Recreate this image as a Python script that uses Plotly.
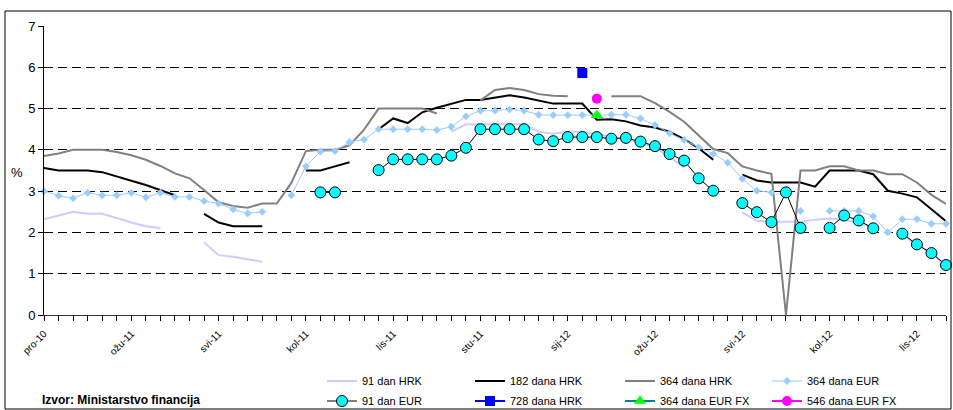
import plotly.graph_objects as go

N = 63
auction_idx = list(range(N))
tick_pos = [0, 6, 12, 18, 24, 30, 36, 42, 48, 54, 60]
tick_labels = ["pro-10", "ožu-11", "svi-11", "kol-11", "lis-11", "stu-11",
               "sij-12", "ožu-12", "svi-12", "kol-12", "lis-12"]

N_ = None
hrk_91 = [2.32, 2.41, 2.5, 2.45, 2.45, 2.35, 2.24, 2.15, 2.1, N_, N_,
          1.76, 1.45, 1.41, 1.35, 1.29,
          N_, N_, N_, N_, N_, N_, N_, N_, N_, N_, N_, N_,
          4.44, 4.62, 4.62, 4.62, 4.62, 4.62, 4.44, 4.39, 4.44, 4.44, 4.38, 4.33,
          4.27, 4.18, 4.05, 3.84, 3.56,
          N_, N_, N_,
          2.48, 2.28, 2.26, 2.26, 2.26, 2.31, 2.34, 2.31, 2.23, 2.12,
          N_, 1.95, 1.7, 1.5, 1.2]
hrk_182 = [3.56, 3.5, 3.5, 3.5, 3.46, 3.35, 3.25, 3.15, 3.02, 2.9,
           N_,
           2.45, 2.24, 2.15, 2.15, 2.15,
           N_, N_,
           3.5, 3.5, 3.6, 3.7,
           N_,
           4.5, 4.76, 4.65, 4.91, 5.02, 5.12, 5.21, 5.21, 5.27, 5.32, 5.27, 5.19,
           5.12, 5.12, 5.12, 4.73, 4.74, 4.69, 4.59, 4.54, 4.44, 4.26, 4.04, 3.76,
           N_,
           3.4, 3.26, 3.21, 3.21, 3.21, 3.11, 3.5, 3.5, 3.5, 3.41, 3.01, 2.94,
           2.85, 2.56, 2.27]
hrk_364 = [3.85, 3.91, 4.0, 4.0, 4.0, 3.95, 3.87, 3.76, 3.61, 3.43, 3.31, 3.03,
           2.73, 2.64, 2.6, 2.7, 2.7, 3.2, 3.97, 4.0, 4.0, 4.11, 4.49, 5.0,
           5.0, 5.0, 5.0, 4.88,
           N_, N_,
           5.2, 5.45, 5.5, 5.45, 5.35, 5.31, 5.3,
           N_, N_,
           5.3, 5.3, 5.3, 5.13, 4.92, 4.68, 4.35, 4.02, 3.92, 3.6, 3.5, 3.42,
           0.0, 3.5, 3.5, 3.6, 3.6, 3.5, 3.5, 3.41, 3.41, 3.21, 2.91, 2.69]
eur_364 = [3.0, 2.89, 2.83, 2.96, 2.9, 2.9, 2.96, 2.85, 2.96, 2.86, 2.86, 2.76,
           2.7, 2.56, 2.46, 2.5,
           N_,
           2.9, 3.6, 3.96, 3.97, 4.19, 4.25, 4.5, 4.5, 4.5, 4.5, 4.48, 4.56,
           4.81, 4.95, 4.95, 4.98, 4.95, 4.85, 4.84, 4.84, 4.84, 4.85, 4.85,
           4.85, 4.76, 4.6, 4.4, 4.24, 4.06, 3.9, 3.69, 3.3, 3.01, 2.97,
           N_, 2.52, N_,
           2.52, 2.52, 2.52, 2.39, 2.0, 2.32, 2.32, 2.21, 2.21]
eur_91 = [N_] * 19 + [2.97, 2.97, N_, N_, 3.51, 3.77, 3.77, 3.77, 3.77, 3.86,
          4.05, 4.5, 4.5, 4.5, 4.5, 4.25, 4.21, 4.31, 4.31, 4.31, 4.27, 4.29,
          4.2, 4.09, 3.9, 3.74, 3.31, 3.01, N_, 2.71, 2.49, 2.25, 2.97, 2.11,
          N_, 2.11, 2.41, 2.29, 2.1, N_, 1.97, 1.71, 1.5, 1.21]
hrk_728_x, hrk_728_y = [37], [5.86]
eurfx_364_x, eurfx_364_y = [38], [4.84]
eurfx_546_x, eurfx_546_y = [38], [5.24]

FONT = "Arial, Liberation Sans, sans-serif"
L, R, T, B = 44, 7, 26, 95
W, H = 953, 410
PW, PH = W - L - R, H - T - B

def px2x(px):
    return (px - L) / PW

def py2y(py):
    return (H - B - py) / PH

fig = go.Figure()

def line(name, y, color, width, legend):
    fig.add_trace(go.Scatter(x=auction_idx, y=y, name=name, mode="lines",
                             line=dict(color=color, width=width),
                             connectgaps=False, cliponaxis=False, legend=legend))

line("91 dan HRK", hrk_91, "#CCCCFF", 2, "legend")
line("182 dana HRK", hrk_182, "#000000", 2, "legend2")
line("364 dana HRK", hrk_364, "#808080", 2, "legend3")
fig.add_trace(go.Scatter(x=auction_idx, y=eur_364, name="364 dana EUR",
                         mode="lines+markers", connectgaps=False, cliponaxis=False,
                         line=dict(color="#99CCFF", width=1),
                         marker=dict(symbol="diamond", size=6, color="#99CCFF"),
                         legend="legend4"))
fig.add_trace(go.Scatter(x=auction_idx, y=eur_91, name="91 dan EUR",
                         mode="lines+markers", connectgaps=False, cliponaxis=False,
                         line=dict(color="#000000", width=1),
                         marker=dict(symbol="circle", size=11, color="#00FFFF",
                                     line=dict(color="#000000", width=1)),
                         legend="legend5"))
fig.add_trace(go.Scatter(x=hrk_728_x, y=hrk_728_y, name="728 dana HRK",
                         mode="lines+markers", cliponaxis=False,
                         line=dict(color="#0000FF", width=2),
                         marker=dict(symbol="square", size=10, color="#0000FF"),
                         legend="legend6"))
fig.add_trace(go.Scatter(x=eurfx_364_x, y=eurfx_364_y, name="364 dana EUR FX",
                         mode="lines+markers", cliponaxis=False,
                         line=dict(color="#008080", width=2),
                         marker=dict(symbol="triangle-up", size=11, color="#00FF00"),
                         legend="legend7"))
fig.add_trace(go.Scatter(x=eurfx_546_x, y=eurfx_546_y, name="546 dana EUR FX",
                         mode="lines+markers", cliponaxis=False,
                         line=dict(color="#FF00FF", width=2),
                         marker=dict(symbol="circle", size=10, color="#FF00FF"),
                         legend="legend8"))

tickvals = list(range(N))
ticktext = [tick_labels[tick_pos.index(i)] if i in tick_pos else "" for i in tickvals]

leg_common = dict(orientation="h", xanchor="left", yanchor="middle",
                  bgcolor="rgba(0,0,0,0)", font=dict(family=FONT, size=11, color="#000"),
                  itemwidth=30, borderwidth=0)
col_px = [322, 470, 620, 767]
row_py = [381, 401]
legends = {}
k = 0
for r in row_py:
    for c in col_px:
        key = "legend" if k == 0 else f"legend{k + 1}"
        legends[key] = dict(x=px2x(c), y=py2y(r), **leg_common)
        k += 1

fig.update_layout(
    width=W, height=H,
    margin=dict(l=L, r=R, t=T, b=B, autoexpand=False),
    paper_bgcolor="white", plot_bgcolor="white",
    font=dict(family=FONT, size=13, color="#000"),
    showlegend=True,
    **legends,
    xaxis=dict(range=[0, 62], tickmode="array", tickvals=tickvals, ticktext=ticktext,
               tickangle=-45, ticks="outside", ticklen=5, tickcolor="#000",
               showline=True, linecolor="#333", linewidth=1, showgrid=False,
               zeroline=False, tickfont=dict(size=10, family=FONT),
               ticklabelstandoff=3, automargin=False),
    yaxis=dict(range=[0, 7], dtick=1, ticks="outside", ticklen=5, tickcolor="#000",
               showline=True, linecolor="#000", linewidth=1,
               showgrid=True, gridcolor="#000", gridwidth=1, griddash="9px,5px",
               zeroline=False, tickfont=dict(size=13, family=FONT), automargin=False),
    annotations=[
        dict(text="%", xref="paper", yref="paper", x=px2x(17), y=py2y(172),
             showarrow=False, font=dict(size=13, family=FONT), xanchor="center", yanchor="middle"),
        dict(text="<b>Izvor: Ministarstvo financija</b>", xref="paper", yref="paper",
             x=px2x(40), y=py2y(400), showarrow=False,
             font=dict(size=12, family=FONT), xanchor="left", yanchor="middle"),
    ],
    shapes=[dict(type="rect", xref="paper", yref="paper",
                 x0=px2x(5), x1=px2x(951), y0=py2y(409), y1=py2y(11),
                 line=dict(color="#000", width=1))],
)

fig.write_html("out.html", config={"displayModeBar": False},
               post_script="document.body.style.margin='0px';document.body.style.overflow='hidden';")
